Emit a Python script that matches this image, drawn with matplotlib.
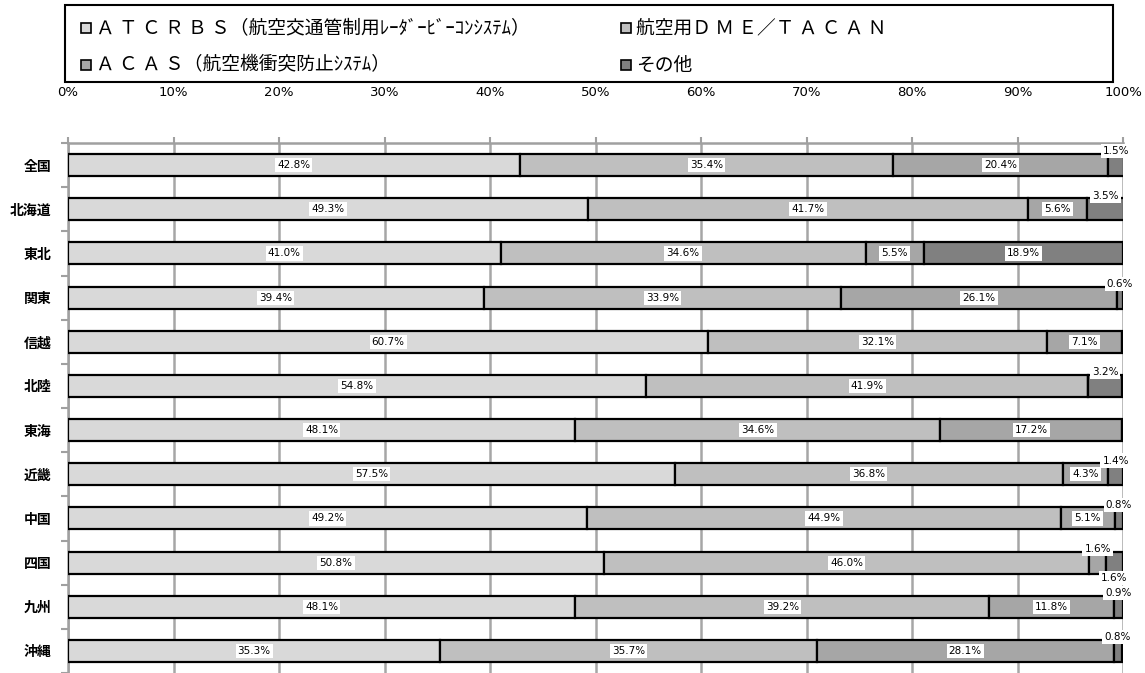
import numpy as np
import matplotlib.pyplot as plt
from matplotlib.patches import Rectangle

plt.rcParams['font.family'] = ['Noto Sans CJK JP', 'DejaVu Sans']

regions = ['全国', '北海道', '東北', '関東', '信越', '北陸', '東海', '近畿', '中国', '四国', '九州', '沖縄']
atcrbs = [42.8, 49.3, 41.0, 39.4, 60.7, 54.8, 48.1, 57.5, 49.2, 50.8, 48.1, 35.3]
dme = [35.4, 41.7, 34.6, 33.9, 32.1, 41.9, 34.6, 36.8, 44.9, 46.0, 39.2, 35.7]
acas = [20.4, 5.6, 5.5, 26.1, 7.1, 0.0, 17.2, 4.3, 5.1, 1.6, 11.8, 28.1]
other = [1.5, 3.5, 18.9, 0.6, 0.0, 3.2, 0.0, 1.4, 0.8, 1.6, 0.9, 0.8]
series_names = ['Ａ Ｔ Ｃ Ｒ Ｂ Ｓ（航空交通管制用ﾚｰﾀﾞｰﾋﾞｰｺﾝｼｽﾃﾑ）', '航空用Ｄ Ｍ Ｅ／Ｔ Ａ Ｃ Ａ Ｎ',
                'Ａ Ｃ Ａ Ｓ（航空機衝突防止ｼｽﾃﾑ）', 'その他']
colors = ['#d9d9d9', '#bfbfbf', '#a6a6a6', '#808080']

fig = plt.figure(figsize=(11.45, 6.73), dpi=100)
ax = fig.add_axes([68/1145, 0.0, (1123-68)/1145, 1-143/673])

y = np.arange(len(regions))
data = [atcrbs, dme, acas, other]
left = np.zeros(len(regions))
for k, vals in enumerate(data):
    vals = np.array(vals)
    ax.barh(y, vals, left=left, height=0.5, color=colors[k], edgecolor='black',
            linewidth=1.6, zorder=3)
    for i, v in enumerate(vals):
        if v <= 0:
            continue
        cx = left[i] + v/2
        cy = y[i]
        if v < 4:
            # small segments: label above the bar (one below for 四国)
            cy = y[i] + 0.34 if (regions[i] == '四国' and k == 3) else y[i] - 0.31
        ax.text(cx, cy, f'{v:.1f}%', ha='center', va='center', fontsize=7.5,
                family=['DejaVu Sans'], zorder=5,
                bbox=dict(facecolor='white', edgecolor='none', pad=1.5))
    left = left + vals

ax.set_xlim(0, 100)
ax.set_ylim(len(regions)-0.5, -0.5)
ax.xaxis.tick_top()
ax.set_xticks(np.arange(0, 101, 10))
ax.set_xticklabels([f'{t}%' for t in range(0, 101, 10)], fontsize=9.5, family=['DejaVu Sans'])
ax.tick_params(axis='x', length=4, width=1.5, color='#a0a0a0', pad=28)
ax.set_yticks(y)
ax.set_yticklabels(regions, fontsize=10, fontweight='bold')
ax.set_yticks(np.arange(-0.5, len(regions)), minor=True)
ax.tick_params(axis='y', which='major', length=0, pad=12)
ax.tick_params(axis='y', which='minor', length=5, width=1.5, color='#a0a0a0')
ax.grid(axis='x', color='#a6a6a6', linewidth=1.8, zorder=0)
for s in ['right', 'bottom']:
    ax.spines[s].set_visible(False)
for s in ['top', 'left']:
    ax.spines[s].set_color('#a0a0a0')
    ax.spines[s].set_linewidth(1.8)

# legend box
W, H = 1145, 673
fig.patches.append(Rectangle((65/W, 1-82/H), (1113-65)/W, 77/H, transform=fig.transFigure,
                             facecolor='white', edgecolor='black', linewidth=1.5))
pos = [(81, 28), (621, 28), (81, 65), (621, 65)]
for (px, py), name, c in zip(pos, series_names, colors):
    fig.patches.append(Rectangle((px/W, 1-(py+5)/H), 10/W, 10/H, transform=fig.transFigure,
                                 facecolor=c, edgecolor='black', linewidth=1.2))
    fig.text((px+15)/W, 1-py/H, name, fontsize=13.5, va='center', ha='left')

fig.savefig('out.png', dpi=100)
